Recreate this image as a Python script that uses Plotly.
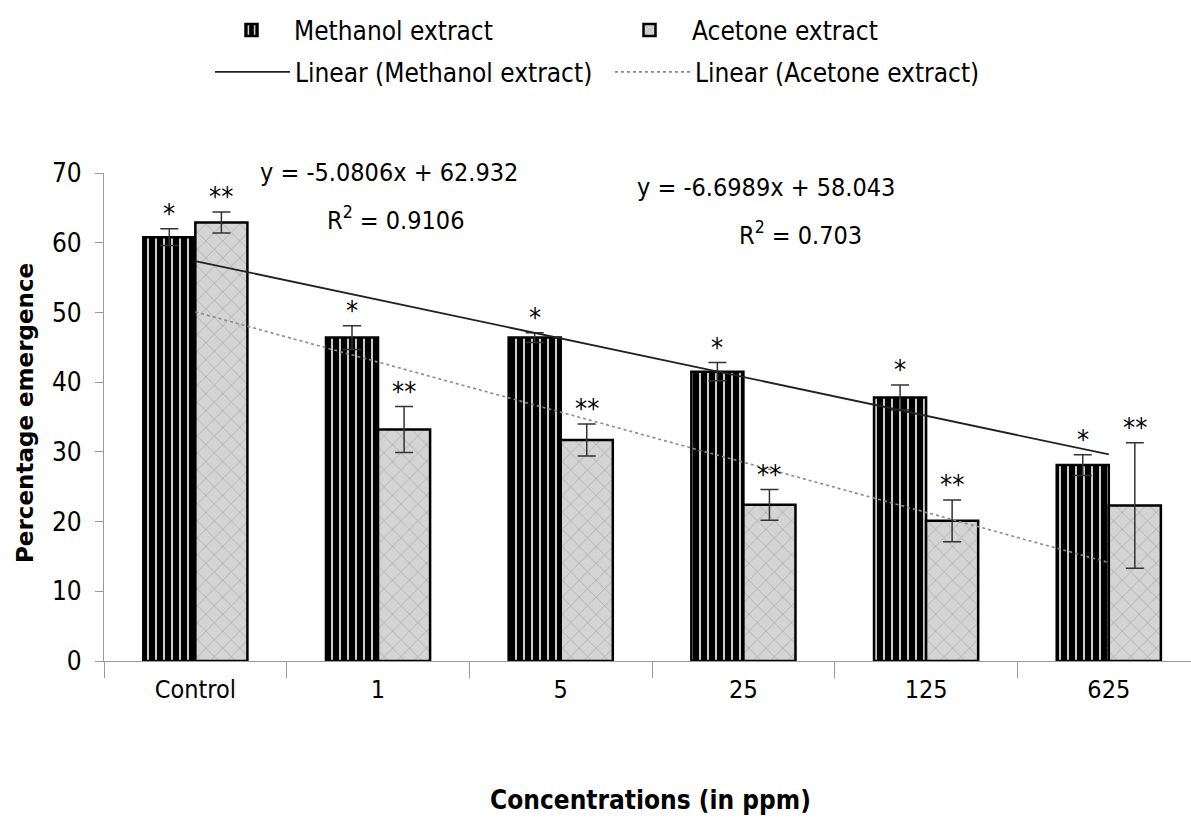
import numpy as np
import plotly.graph_objects as go

categories = ["Control", "1", "5", "25", "125", "625"]
methanol = [60.8, 46.4, 46.4, 41.5, 37.8, 28.1]
methanol_err = [1.2, 1.7, 0.7, 1.3, 1.8, 1.5]
acetone = [62.9, 33.2, 31.7, 22.4, 20.1, 22.3]
acetone_err = [1.5, 3.3, 2.3, 2.2, 3.0, 9.0]
methanol_marks = ["*"] * 6
acetone_marks = ["**"] * 6
eq_methanol = ["y = -5.0806x + 62.932", "R<sup>2</sup> = 0.9106"]
eq_acetone = ["y = -6.6989x + 58.043", "R<sup>2</sup> = 0.703"]
x_title = "Concentrations (in ppm)"
y_title = "Percentage emergence"

FONT = "DejaVu Sans Condensed, Open Sans, sans-serif"
W, H = 1191, 825
L, T, B = 104, 173, 164

idx = np.arange(len(categories))
fit_m = np.polyval(np.polyfit(idx + 1, methanol, 1), idx + 1)
fit_a = np.polyval(np.polyfit(idx + 1, acetone, 1), idx + 1)

fig = go.Figure()
fig.add_trace(go.Bar(
    x=categories, y=methanol, name="Methanol extract", legend="legend2",
    marker=dict(color="black", line=dict(color="black", width=2.5),
                pattern=dict(shape="|", fgcolor="white", bgcolor="black", fgopacity=1,
                             size=8, solidity=0.2, fillmode="replace")),
    error_y=dict(type="data", array=methanol_err, color="#333", thickness=1.5, width=9),
))
fig.add_trace(go.Bar(
    x=categories, y=acetone, name="Acetone extract", legend="legend3",
    marker=dict(color="#d4d4d4", line=dict(color="black", width=2.5),
                pattern=dict(shape="x", fgcolor="#a0a0a0", bgcolor="#d4d4d4",
                             size=12, solidity=0.1, fillmode="replace")),
    error_y=dict(type="data", array=acetone_err, color="#333", thickness=1.5, width=9),
))
fig.add_trace(go.Scatter(
    x=categories, y=fit_m, mode="lines", name="Linear (Methanol extract)", legend="legend4",
    line=dict(color="#222", width=1.8),
))
fig.add_trace(go.Scatter(
    x=categories, y=fit_a, mode="lines", name="Linear (Acetone extract)", legend="legend5",
    line=dict(color="#8a8a8a", width=1.6, dash="dot"),
))

off = 0.1425
for i in idx:
    fig.add_annotation(x=i - off, y=methanol[i] + methanol_err[i], xref="x", yref="y",
                       text=methanol_marks[i], showarrow=False, yanchor="bottom",
                       yshift=-2, font=dict(family=FONT, size=27, color="black"))
    fig.add_annotation(x=i + off, y=acetone[i] + acetone_err[i], xref="x", yref="y",
                       text=acetone_marks[i], showarrow=False, yanchor="bottom",
                       yshift=-2, font=dict(family=FONT, size=27, color="black"))

def px(xp):
    return (xp - L) / (W - L)

def py(yp):
    return 1 - (yp - T) / (H - T - B)

eqfont = dict(family=FONT, size=25, color="black")
for txt, xp, yp in [(eq_methanol[0], 389, 172), (eq_methanol[1], 395, 218),
                    (eq_acetone[0], 766, 188), (eq_acetone[1], 800, 233)]:
    fig.add_annotation(x=px(xp), y=py(yp), xref="paper", yref="paper", text=txt,
                       showarrow=False, xanchor="center", yanchor="middle", font=eqfont)

fig.add_annotation(x=px(650), y=py(800), xref="paper", yref="paper", text="<b>" + x_title + "</b>",
                   showarrow=False, xanchor="center", yanchor="middle",
                   font=dict(family=FONT, size=26, color="black"))
fig.add_annotation(x=px(25), y=py(413), xref="paper", yref="paper", text="<b>" + y_title + "</b>",
                   showarrow=False, xanchor="center", yanchor="middle", textangle=-90,
                   font=dict(family="DejaVu Sans, Verdana, sans-serif", size=23, color="black"))

legfont = dict(family=FONT, size=26, color="black")
def leg(xp, yp):
    return dict(xref="container", yref="container", x=xp / W, y=1 - yp / H,
                xanchor="left", yanchor="middle", font=legfont, bgcolor="rgba(0,0,0,0)",
                itemwidth=75, borderwidth=0)

fig.update_layout(
    width=W, height=H,
    margin=dict(l=L, r=0, t=T, b=B, autoexpand=False),
    paper_bgcolor="white", plot_bgcolor="white",
    barmode="group", bargap=0.43, bargroupgap=0,
    font=dict(family=FONT, size=26, color="black"),
    legend2=leg(209, 30), legend3=leg(607, 30), legend4=leg(210, 72), legend5=leg(610, 72),
    xaxis=dict(
        type="category",
        range=[-0.5, 5.45], showline=True, linecolor="#999", linewidth=1.2,
        ticks="outside", ticklen=16, tickcolor="#999", tickson="boundaries",
        showgrid=False, zeroline=False, ticklabelstandoff=6,
        tickfont=dict(family=FONT, size=25, color="black"),
    ),
    yaxis=dict(
        range=[0, 70], dtick=10, showline=True, linecolor="#999", linewidth=1.2,
        ticks="outside", ticklen=8, tickcolor="#999", showgrid=False, zeroline=False,
        ticklabelstandoff=8,
        tickfont=dict(family=FONT, size=26, color="black"),
    ),
)

fig.write_html("out.html")
